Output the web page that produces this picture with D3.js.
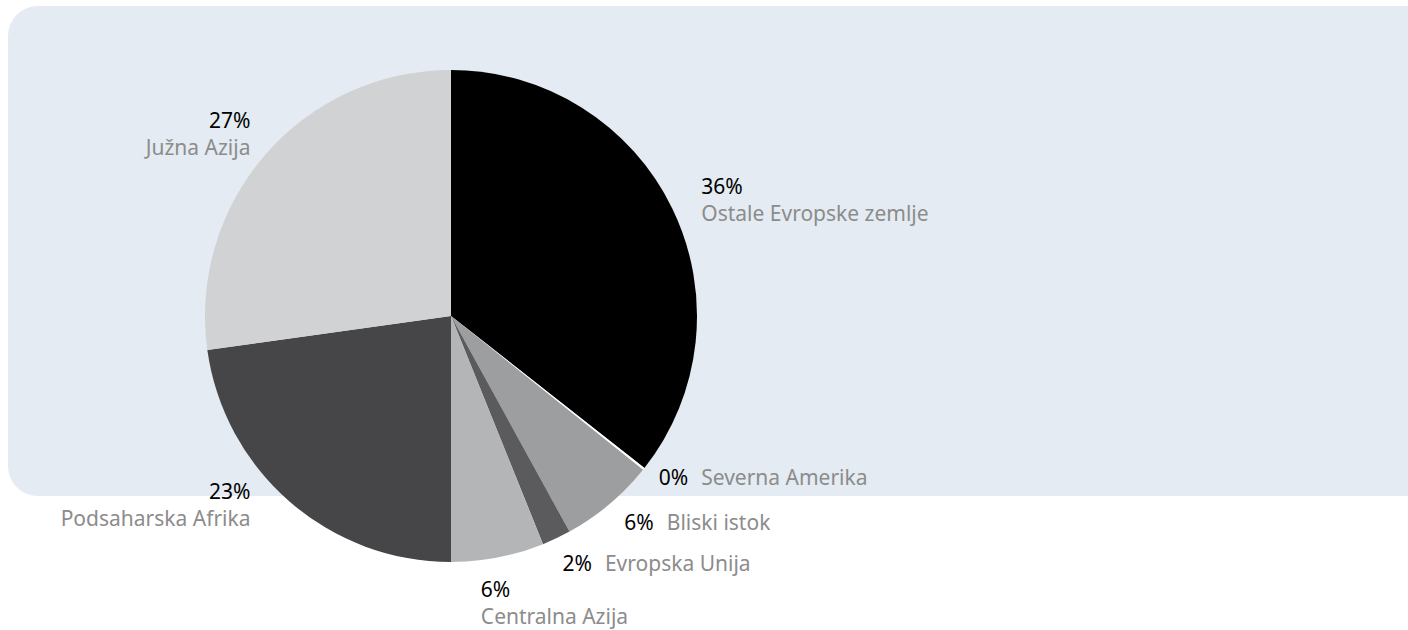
<!DOCTYPE html>
<html>
<head>
<meta charset="utf-8">
<script src="https://cdn.jsdelivr.net/npm/d3@7"></script>
<style>
  html, body { margin: 0; padding: 0; background: #fff; }
  svg { display: block; }
  text { font-family: "Noto Sans", "Open Sans", sans-serif; font-size: 21px; }
</style>
</head>
<body>
<div id="pie"></div>
<script>
// slices in clockwise order from 12 o'clock
const categories = ['Ostale Evropske zemlje', 'Severna Amerika', 'Bliski istok', 'Evropska Unija',
  'Centralna Azija', 'Podsaharska Afrika', 'Južna Azija'];
const values = [35.6, 0.15, 6.25, 1.9, 6.1, 22.8, 27.2];
const percentLabels = ['36%', '0%', '6%', '2%', '6%', '23%', '27%'];
const colors = ['#000000', '#ffffff', '#9d9ea0', '#5b5b5d', '#b4b5b7', '#464648', '#d1d2d4'];

// label placement: stacked (two lines) or inline, nudged from the outer arc point
const labelLayout = {
  'Ostale Evropske zemlje': { mode: 'stack', anchor: 'start', dx: 29, dy: -14 },
  'Severna Amerika': { mode: 'inline', anchor: 'start', dx: 15, dy: 16 },
  'Bliski istok': { mode: 'inline', anchor: 'start', dx: 15, dy: 26 },
  'Evropska Unija': { mode: 'inline', anchor: 'start', dx: 6, dy: 33 },
  'Centralna Azija': { mode: 'stack', anchor: 'start', dx: -17, dy: 40 },
  'Podsaharska Afrika': { mode: 'stack', anchor: 'end', dx: -39, dy: -3 },
  'Južna Azija': { mode: 'stack', anchor: 'end', dx: -15, dy: -26 }
};

const width = 1408, height = 630;
const cx = 451, cy = 316, radius = 246;

const svg = d3.select('#pie').append('svg').attr('width', width).attr('height', height);

// panel behind the chart
svg.append('rect')
  .attr('x', 8).attr('y', 6)
  .attr('width', 1440).attr('height', 490)
  .attr('rx', 30).attr('ry', 30)
  .attr('fill', '#e4ebf2');

const data = categories.map((c, i) => ({ name: c, value: values[i], pct: percentLabels[i], color: colors[i] }));

const pie = d3.pie().sort(null).value(d => d.value);
const arc = d3.arc().innerRadius(0).outerRadius(radius);
const edge = d3.arc().innerRadius(radius).outerRadius(radius);

const g = svg.append('g').attr('transform', `translate(${cx},${cy})`);
const arcs = pie(data);

g.selectAll('path')
  .data(arcs)
  .enter().append('path')
  .attr('d', arc)
  .attr('fill', d => d.data.color);

const labels = g.selectAll('g.label')
  .data(arcs)
  .enter().append('g')
  .attr('class', 'label')
  .attr('transform', d => {
    const p = edge.centroid(d);
    const l = labelLayout[d.data.name];
    return `translate(${p[0] + l.dx},${p[1] + l.dy})`;
  });

labels.each(function (d) {
  const l = labelLayout[d.data.name];
  const sel = d3.select(this);
  const t = sel.append('text').attr('text-anchor', l.anchor);
  if (l.mode === 'stack') {
    t.append('tspan').attr('x', 0).attr('y', 0).attr('fill', '#000').text(d.data.pct);
    t.append('tspan').attr('x', 0).attr('y', 27).attr('fill', '#8c8c8c').text(d.data.name);
  } else {
    t.append('tspan').attr('fill', '#000').text(d.data.pct);
    t.append('tspan').attr('dx', 13).attr('fill', '#8c8c8c').text(d.data.name);
  }
});
</script>
</body>
</html>
